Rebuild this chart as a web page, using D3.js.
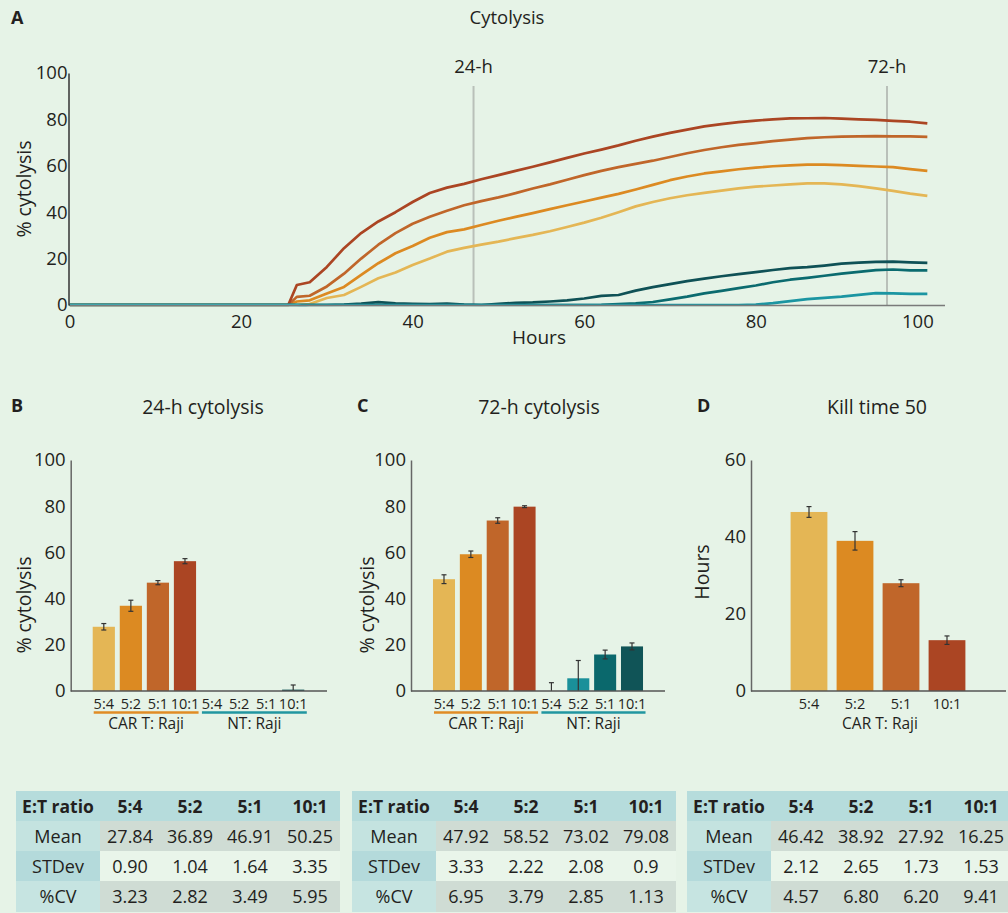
<!DOCTYPE html>
<html><head><meta charset="utf-8">
<script src="https://cdn.jsdelivr.net/npm/d3@7"></script>
<style>
html,body{margin:0;padding:0;background:#e6f3e7;}
svg{display:block;font-family:"Open Sans",sans-serif;}
</style></head><body>
<svg id="c" width="1008" height="913"></svg>
<script>
// ---------- Panel A data (cytolysis time course) ----------
const hours = [0,25.5,26.5,28,30,32,34,36,38,40,42,44,46,48,50,52,54,56,58,60,62,64,66,68,70,72,74,76,78,80,82,84,86,88,90,92,94,96,98,100];
const car54  = [0,0,0,0.4,3,4.3,7.8,11.5,14,17.2,20,23,24.6,26,27.3,28.8,30.2,31.8,33.6,35.5,37.6,40,42.5,44.4,46,47.3,48.3,49.3,50.3,51,51.5,52,52.4,52.4,52,51.2,50.3,49.2,48,47];
const car52  = [0,0,1.5,2,5,7.8,13,18,22.3,25.4,29,31.4,32.6,34.5,36.3,38,39.6,41.3,43,44.6,46.3,47.9,49.8,51.8,53.8,55.4,56.7,57.6,58.5,59.2,59.8,60.2,60.5,60.5,60.3,60,59.7,59.4,58.6,57.8];
const car51  = [0,0,3.5,4,8,13.5,20,26,31,35,38,40.6,43,44.8,46.4,48.2,50.2,52,54,56,57.8,59.4,60.8,62.2,63.8,65.4,66.8,68,69,69.8,70.6,71.3,71.9,72.3,72.6,72.7,72.8,72.7,72.7,72.5];
const car101 = [0,0,8.6,9.8,16.4,24.5,31,36,40,44.4,48.3,50.6,52.2,54.2,56,57.8,59.6,61.5,63.4,65.3,67,68.8,70.8,72.6,74.2,75.6,77,78,78.8,79.5,80,80.4,80.5,80.6,80.3,80,79.8,79.4,79,78.3];
const nt101  = [0,0,0,0,0,0.2,0.6,1.2,0.7,0.5,0.4,0.6,0.2,0,0.5,0.9,1.1,1.5,2,2.8,3.9,4.3,6.2,7.7,9,10.3,11.4,12.4,13.3,14.2,15.1,15.9,16.3,17,17.8,18.3,18.6,18.7,18.4,18.2];
const nt51   = [0,0,0,0,0,0,0,0,0,0,0,0,0,0,0,0,0,0,0,0,0.1,0.4,0.7,1.3,2.4,3.6,5,6.1,7.3,8.4,9.8,10.9,11.7,12.6,13.5,14.3,15,15.3,14.9,14.9];
const nt52   = [0,0,0,0,0,0,0,0,0,0,0,0,0,0,0,0,0,0,0,0,0,0,0,0,0,0,0,0,0,0.2,0.8,1.7,2.5,3.1,3.6,4.4,5.1,5,4.8,4.8];
const nt54   = [0,0,0,-1.5,-2,-2,-2,-2,-2,-2,-2,-2,-2,-2,-2,-2,-2,-2,-2,-2,-2,-2,-2,-2,-2,-2,-2,-2,-2,-2,-2,-2,-2,-2,-2,-2,-2,-2,-2,-2];
const markerLabels = ["24-h","72-h"];
const markerHours = [47.1, 95.3];
const hourTicks = [0,20,40,60,80,100];
const pctTicks = [0,20,40,60,80,100];
const hourBarTicks = [0,20,40,60];

// ---------- Bar panels data ----------
const ratios = ["5:4","5:2","5:1","10:1"];
const groupNames = ["CAR T: Raji","NT: Raji"];
const b24Car = [27.8,36.9,46.9,56.2];
const b24CarErr = [1.4,2.4,0.9,1.1];
const b24Nt = [0,0,0,0.6];
const b24NtErr = [null,null,null,2.0];
const c72Car = [48.4,59.2,73.8,79.8];
const c72CarErr = [1.9,1.4,1.2,0.4];
const c72Nt = [0,5.5,15.8,19.3];
const c72NtErr = [3.6,7.7,1.9,1.5];
const kt50 = [46.5,39.0,28.0,13.2];
const kt50Err = [1.4,2.4,0.9,1.1];

// ---------- Tables ----------
const statLabels = ["Mean","STDev","%CV"];
const tabB = [["27.84","36.89","46.91","50.25"],["0.90","1.04","1.64","3.35"],["3.23","2.82","3.49","5.95"]];
const tabC = [["47.92","58.52","73.02","79.08"],["3.33","2.22","2.08","0.9"],["6.95","3.79","2.85","1.13"]];
const tabD = [["46.42","38.92","27.92","16.25"],["2.12","2.65","1.73","1.53"],["4.57","6.80","6.20","9.41"]];

const carColors = ["#e4b655","#dc8a22","#c0662a","#ab4523"];
const ntColors  = ["#2fb2bc","#1a909a","#0a686c","#105457"];
const ntLineColors = ["#2fb2bc","#1b95a2","#0b6b6f","#0f5156"];
const TXT = "#231f20";
const BG = "#e6f3e7";

const svg = d3.select("#c");
svg.append("rect").attr("width",1008).attr("height",913).attr("fill",BG);

// ================= Panel A =================
const xA = d3.scaleLinear().domain([0,102]).range([69.5,944.5]);
const yA = d3.scaleLinear().domain([0,100]).range([305,73]);
svg.append("text").attr("x",11).attr("y",24).attr("font-weight","bold").attr("font-size",18).attr("fill",TXT).text("A");
svg.append("text").attr("x",507).attr("y",24).attr("text-anchor","middle").attr("font-size",18.5).attr("fill",TXT).text("Cytolysis");

const defs = svg.append("defs");
defs.append("clipPath").attr("id","clipA").append("rect").attr("x",xA(0)).attr("y",50).attr("width",880).attr("height",yA(0)+1.3-50);

markerHours.forEach((h,i)=>{
  svg.append("line").attr("x1",xA(h)).attr("x2",xA(h)).attr("y1",86).attr("y2",yA(0))
    .attr("stroke","#b9c0b9").attr("stroke-width",2);
  svg.append("text").attr("x",xA(h)).attr("y",73).attr("text-anchor","middle").attr("font-size",18.5).attr("fill",TXT).text(markerLabels[i]);
});

const lineGen = d3.line().x((d,i)=>xA(hours[i])).y(d=>yA(d));
const seriesA = [
  [car54,carColors[0]],[car52,carColors[1]],[car51,carColors[2]],[car101,carColors[3]],
  [nt101,ntLineColors[3]],[nt51,ntLineColors[2]],[nt52,ntLineColors[1]],[nt54,ntLineColors[0]]
];
const gl = svg.append("g").attr("clip-path","url(#clipA)");
seriesA.forEach(([vals,col])=>{
  gl.append("path").attr("d",lineGen(vals)).attr("fill","none").attr("stroke",col)
    .attr("stroke-width",2.7).attr("stroke-linejoin","round");
});

const axYA = svg.append("g").attr("transform",`translate(${xA(0)-1},0)`)
  .call(d3.axisLeft(yA).tickValues(pctTicks).tickSize(0).tickPadding(1));
const axXA = svg.append("g").attr("transform",`translate(0,${yA(0)})`)
  .call(d3.axisBottom(xA).tickValues(hourTicks).tickSize(0).tickPadding(10));
[axYA,axXA].forEach(g=>{
  g.attr("font-size",18.5).attr("font-family","'Open Sans',sans-serif");
  g.selectAll("text").attr("fill",TXT);
});
axXA.selectAll(".tick text").attr("dx",d=>d===100?-10:0);
axYA.select(".domain").attr("stroke","#333").attr("stroke-width",1.5);
axXA.select(".domain").attr("stroke","#7a7a7a").attr("stroke-width",1.5);
svg.append("text").attr("transform",`translate(31,${(yA(0)+yA(100))/2}) rotate(-90)`).attr("text-anchor","middle")
  .attr("font-size",19.5).attr("fill",TXT).text("% cytolysis");
svg.append("text").attr("x",539).attr("y",344).attr("text-anchor","middle").attr("font-size",19).attr("fill",TXT).text("Hours");

// ================= Bar panels =================
function barPanel(cfg){
  const y = d3.scaleLinear().domain([0,cfg.yMax]).range([691,460]);
  const idx = cfg.vals.map((v,i)=>i);
  const x = d3.scaleBand().domain(idx).range(cfg.xRange).paddingInner(cfg.pi).paddingOuter(cfg.po);
  const g = svg.append("g");
  g.append("text").attr("x",cfg.letterX).attr("y",412).attr("font-weight","bold").attr("font-size",18).attr("fill",TXT).text(cfg.letter);
  g.append("text").attr("x",cfg.titleX).attr("y",414).attr("text-anchor","middle").attr("font-size",19.5).attr("fill",TXT).text(cfg.title);
  // bars
  idx.forEach(i=>{
    const v = cfg.vals[i];
    if (v > 0) {
      g.append("rect").attr("x",x(i)).attr("width",x.bandwidth()).attr("y",y(v)).attr("height",y(0)-y(v)).attr("fill",cfg.colors[i]);
    }
  });
  // error bars
  idx.forEach(i=>{
    const v = cfg.vals[i], e = cfg.errs[i];
    if (e == null) return;
    const cx = x(i)+x.bandwidth()/2;
    const hi = v+e, lo = v-e;
    const loC = Math.max(0,lo);
    g.append("line").attr("x1",cx).attr("x2",cx).attr("y1",y(hi)).attr("y2",y(loC)).attr("stroke","#333").attr("stroke-width",1.2);
    g.append("line").attr("x1",cx-2.5).attr("x2",cx+2.5).attr("y1",y(hi)).attr("y2",y(hi)).attr("stroke","#333").attr("stroke-width",1.2);
    if (lo >= 0) g.append("line").attr("x1",cx-2.5).attr("x2",cx+2.5).attr("y1",y(lo)).attr("y2",y(lo)).attr("stroke","#333").attr("stroke-width",1.2);
  });
  // axes
  const ay = g.append("g").attr("transform",`translate(${cfg.axX},0)`)
    .call(d3.axisLeft(y).tickValues(cfg.ticks).tickSize(0).tickPadding(5));
  ay.attr("font-size",18.5).attr("font-family","'Open Sans',sans-serif");
  ay.selectAll("text").attr("fill",TXT);
  ay.select(".domain").attr("stroke","#666").attr("stroke-width",1.5);
  g.append("line").attr("x1",cfg.axX).attr("x2",cfg.xEnd).attr("y1",y(0)).attr("y2",y(0)).attr("stroke","#555").attr("stroke-width",1.5);
  // category labels
  idx.forEach(i=>{
    g.append("text").attr("x",x(i)+x.bandwidth()/2).attr("y",708.5).attr("text-anchor","middle")
      .attr("font-size",cfg.catSize).attr("fill",TXT).text(cfg.labels[i]);
  });
  // group underlines and labels
  cfg.groups.forEach(gr=>{
    const x1 = x(gr.from)+1, x2 = x(gr.to)+x.bandwidth()+2.5;
    if (gr.color) g.append("line").attr("x1",x1).attr("x2",x2).attr("y1",712.5).attr("y2",712.5).attr("stroke",gr.color).attr("stroke-width",2.6);
    g.append("text").attr("x",gr.cx!=null?gr.cx:(x1+x2)/2).attr("y",728.5).attr("text-anchor","middle").attr("font-size",15.5).attr("fill",TXT).text(gr.name);
  });
  // y label
  g.append("text").attr("transform",`translate(${cfg.ylabX},${cfg.ylabY}) rotate(-90)`).attr("text-anchor","middle")
    .attr("font-size",19.5).attr("fill",TXT).text(cfg.ylab);
}

barPanel({letter:"B",letterX:11,title:"24-h cytolysis",titleX:203,yMax:100,ticks:pctTicks,
  xRange:[90,307],pi:0.18,po:0.1,axX:70.7,xEnd:327,
  vals:b24Car.concat(b24Nt),errs:b24CarErr.concat(b24NtErr),colors:carColors.concat(ntColors),
  labels:ratios.concat(ratios),catSize:14.5,
  groups:[{from:0,to:3,name:groupNames[0],color:"#e08c25"},{from:4,to:7,name:groupNames[1],color:"#2196a0"}],
  ylab:"% cytolysis",ylabX:31,ylabY:605});

barPanel({letter:"C",letterX:357,title:"72-h cytolysis",titleX:539,yMax:100,ticks:pctTicks,
  xRange:[430.3,645.7],pi:0.18,po:0.1,axX:411,xEnd:665,
  vals:c72Car.concat(c72Nt),errs:c72CarErr.concat(c72NtErr),colors:carColors.concat(ntColors),
  labels:ratios.concat(ratios),catSize:14.5,
  groups:[{from:0,to:3,name:groupNames[0],color:"#e08c25"},{from:4,to:7,name:groupNames[1],color:"#2196a0"}],
  ylab:"% cytolysis",ylabX:374,ylabY:605});

barPanel({letter:"D",letterX:697,title:"Kill time 50",titleX:877,yMax:60,ticks:hourBarTicks,
  xRange:[786,970],pi:0.2,po:0.1,axX:751,xEnd:1006,
  vals:kt50,errs:kt50Err,colors:carColors,
  labels:ratios,catSize:14.5,
  groups:[{from:0,to:3,name:groupNames[0],color:null,cx:880}],
  ylab:"Hours",ylabX:709,ylabY:572});

// ================= Tables =================
function drawTable(x0,y0,data){
  const colW=[84,60,60,60,60], rowH=[30,30,30,31];
  const g = svg.append("g");
  const xs=[x0]; colW.forEach((w,i)=>xs.push(xs[i]+w));
  const ys=[y0]; rowH.forEach((h,i)=>ys.push(ys[i]+h));
  const firstColFill=["#b6dcdc","#c4e3e0","#b4dadb","#c6e4e1"];
  const dataFill=["#b6dcdc","#cfdcd4","#e9f5ea","#cfdcd4"];
  for(let r=0;r<4;r++){
    for(let c=0;c<5;c++){
      g.append("rect").attr("x",xs[c]).attr("y",ys[r]).attr("width",colW[c]).attr("height",rowH[r])
        .attr("fill",c===0?firstColFill[r]:dataFill[r]);
      let t, bold=false;
      if(r===0){ t = c===0 ? "E:T ratio" : ratios[c-1]; bold=true; }
      else { t = c===0 ? statLabels[r-1] : data[r-1][c-1]; }
      g.append("text").attr("x",xs[c]+colW[c]/2).attr("y",ys[r]+rowH[r]/2+6.5).attr("text-anchor","middle")
        .attr("font-size",bold?17.5:18).attr("font-weight",bold?"bold":"normal").attr("fill",TXT).text(t);
    }
  }
}
drawTable(16,791,tabB);
drawTable(352,791,tabC);
drawTable(687,791,tabD);
</script></body></html>
